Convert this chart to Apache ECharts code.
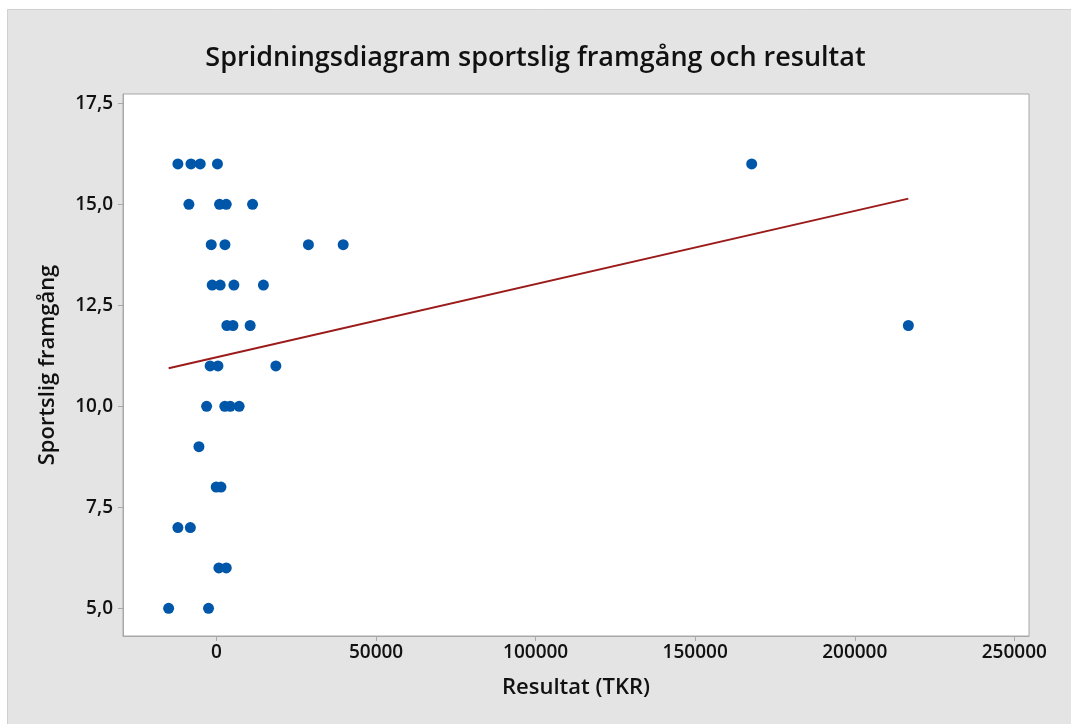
<!DOCTYPE html>
<html>
<head>
<meta charset="utf-8">
<script src="https://cdn.jsdelivr.net/npm/echarts@6/dist/echarts.min.js"></script>
<style>
html,body{margin:0;padding:0;background:#fff;}
#chart{width:1071px;height:724px;}
</style>
</head>
<body>
<div id="chart"></div>
<script>
// Data
var resultat = [
  -12100, -8000, -5100, 300, 167700,      // 16
  -8650, 950, 3050, 11300,                // 15
  -1650, 2650, 28800, 39700,              // 14
  -1350, 1150, 5450, 14700,               // 13
  3250, 5150, 10550, 216800,              // 12
  -2000, 450, 18600,                      // 11
  -3100, 2600, 4300, 7100,                // 10
  -5500,                                  // 9
  -100, 1400,                             // 8
  -12100, -8200,                          // 7
  750, 3050,                              // 6
  -15000, -2500                           // 5
];
var framgang = [
  16, 16, 16, 16, 16,
  15, 15, 15, 15,
  14, 14, 14, 14,
  13, 13, 13, 13,
  12, 12, 12, 12,
  11, 11, 11,
  10, 10, 10, 10,
  9,
  8, 8,
  7, 7,
  6, 6,
  5, 5
];
// fitted line end points
var fitX = [-15000, 216800];
var fitY = [10.94, 15.14];

var xTicks = [0, 50000, 100000, 150000, 200000, 250000];
var yTicks = [5, 7.5, 10, 12.5, 15, 17.5];

var pts = resultat.map(function (v, i) { return [v, framgang[i]]; });
var fitPts = fitX.map(function (v, i) { return [v, fitY[i]]; });

var FONT = '"Open Sans", "Noto Sans", sans-serif';
var chart = echarts.init(document.getElementById('chart'), null, {renderer: 'canvas'});
chart.setOption({
  backgroundColor: '#ffffff',
  animation: false,
  graphic: [{
    type: 'rect', z: -10,
    shape: {x: 7.5, y: 9.5, width: 1080, height: 730},
    style: {fill: '#e4e4e4', stroke: '#d0d0d0', lineWidth: 1}
  }],
  title: {
    text: 'Spridningsdiagram sportslig framgång och resultat',
    left: 'center', top: 40,
    textStyle: {fontFamily: FONT, fontSize: 27, fontWeight: 600, color: '#111111'}
  },
  grid: {
    left: 123, top: 94, right: 42, bottom: 88,
    show: true, backgroundColor: '#ffffff', borderColor: '#a8a8a8', borderWidth: 1
  },
  xAxis: {
    type: 'value', min: -29300, max: 254600,
    name: 'Resultat (TKR)', nameLocation: 'middle', nameGap: 41,
    nameTextStyle: {fontFamily: FONT, fontSize: 22, fontWeight: 600, color: '#111111'},
    splitLine: {show: false},
    axisLine: {show: true, onZero: false, lineStyle: {color: '#a8a8a8'}},
    axisTick: {show: true, length: 5, customValues: xTicks, lineStyle: {color: '#a8a8a8'}},
    axisLabel: {
      customValues: xTicks, margin: 7,
      fontFamily: FONT, fontSize: 19, fontWeight: 600, color: '#111111',
      formatter: function (v) { return String(v); }
    }
  },
  yAxis: {
    type: 'value', min: 4.315, max: 17.73,
    name: 'Sportslig framgång', nameLocation: 'middle', nameGap: 64,
    nameTextStyle: {fontFamily: FONT, fontSize: 22, fontWeight: 600, color: '#111111'},
    splitLine: {show: false},
    axisLine: {show: true, onZero: false, lineStyle: {color: '#a8a8a8'}},
    axisTick: {show: true, length: 5, customValues: yTicks, lineStyle: {color: '#a8a8a8'}},
    axisLabel: {
      customValues: yTicks, margin: 10,
      fontFamily: FONT, fontSize: 19, fontWeight: 600, color: '#111111',
      formatter: function (v) { return v.toFixed(1).replace('.', ','); }
    }
  },
  series: [{
    type: 'line', data: fitPts, symbol: 'none', z: 1,
    lineStyle: {color: '#9b1b1b', width: 2}
  }, {
    type: 'scatter', data: pts, symbol: 'circle', symbolSize: 11, z: 2,
    itemStyle: {color: '#0056a8', opacity: 1}
  }]
});
</script>
</body>
</html>
